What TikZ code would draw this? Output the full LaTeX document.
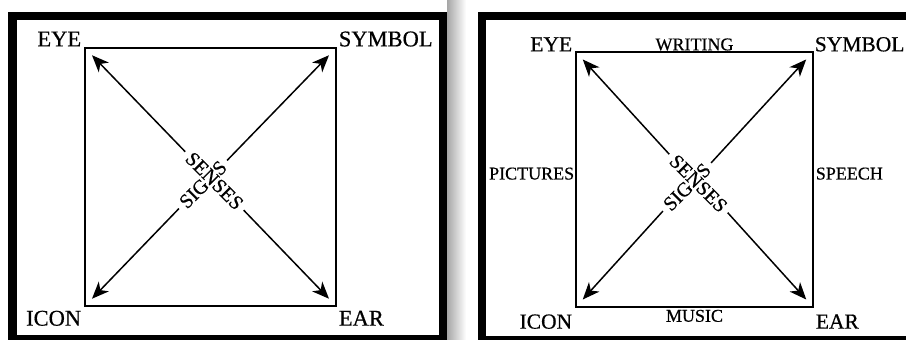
\documentclass[tikz,border=0pt]{standalone}
\usepackage{fontspec}
\setmainfont{Liberation Serif}[UprightFeatures={FakeBold=0.6}]
\usetikzlibrary{arrows.meta,positioning,calc}

\begin{document}
\begin{tikzpicture}[x=1pt, y=1pt,
      frame/.style={line width=8.5pt},
      sq/.style={draw, line width=1.3pt, inner sep=0pt},
      corner/.style={font=\fontsize{22.5}{22.5}\selectfont, inner sep=0pt},
      cornerR/.style={font=\fontsize{21.5}{21.5}\selectfont, inner sep=0pt},
      side/.style={font=\fontsize{18}{18}\selectfont, inner sep=0pt},
      mid/.style={font=\fontsize{20}{20}\selectfont, inner sep=5pt},
      arr/.style={-{Stealth[length=17pt,width=14pt,inset=5pt]}, line width=1.5pt, shorten >=11pt}
    ]
    \useasboundingbox (0,0) rectangle (906,340);
    \clip (0,0) rectangle (906,340);
    % frames and shadow between them
    \shade[left color=gray!70, right color=white] (447,0) rectangle (466,340);
    \draw[frame] (12.5,1) rectangle (443,324);
    \draw[frame] (482,-0.5) rectangle (916,324);
    % LEFT: square, corners, crossing arrows
    \node[sq, minimum width=251pt, minimum height=258pt] (sqL) at (210.5,163) {};
    \node[corner, anchor=base east, xshift=-3pt, yshift=1pt] at (sqL.north west) {EYE};
    \node[corner, anchor=base west, xshift=2pt, yshift=1pt] at (sqL.north east) {SYMBOL};
    \node[corner, anchor=base east, xshift=-3pt, yshift=-19pt] at (sqL.south west) {ICON};
    \node[corner, anchor=base west, xshift=2pt, yshift=-19pt] at (sqL.south east) {EAR};
    \node[mid, rotate=-45] (sensesL) at ($(sqL.center)+(-45:5.6pt)$) {SENSES};
    \node[mid, rotate=45] (signsL) at ($(sqL.center)+(225:10.6pt)$) {SIG\phantom{N}S};
    \draw[arr] (sensesL.west) -- (sqL.north west);
    \draw[arr] (sensesL.east) -- (sqL.south east);
    \draw[arr] (signsL.west) -- (sqL.south west);
    \draw[arr] (signsL.east) -- (sqL.north east);
    % RIGHT: same square with the four sides named
    \node[sq, minimum width=237pt, minimum height=255pt] (sqR) at (694.5,160.5) {};
    \node[cornerR, anchor=base east, xshift=-3pt] at (sqR.north west) {EYE};
    \node[cornerR, anchor=base west, xshift=1pt] at (sqR.north east) {SYMBOL};
    \node[cornerR, anchor=base east, xshift=-3pt, yshift=-21pt] at (sqR.south west) {ICON};
    \node[cornerR, anchor=base west, xshift=2pt, yshift=-21pt] at (sqR.south east) {EAR};
    \node[side, anchor=base, yshift=1pt] at (sqR.north) {WRITING};
    \node[side, anchor=north, yshift=-2pt] at (sqR.south) {MUSIC};
    \node[side, anchor=base east, xshift=-1pt] at (sqR.west) {PICTURES};
    \node[side, anchor=base west, xshift=2pt] at (sqR.east) {SPEECH};
    \node[mid, rotate=-45] (sensesR) at ($(sqR.center)+(-45:5.6pt)$) {SENSES};
    \node[mid, rotate=45] (signsR) at ($(sqR.center)+(225:10.6pt)$) {SIG\phantom{N}S};
    \draw[arr] (sensesR.west) -- (sqR.north west);
    \draw[arr] (sensesR.east) -- (sqR.south east);
    \draw[arr] (signsR.west) -- (sqR.south west);
    \draw[arr] (signsR.east) -- (sqR.north east);
  \end{tikzpicture}
\end{document}
